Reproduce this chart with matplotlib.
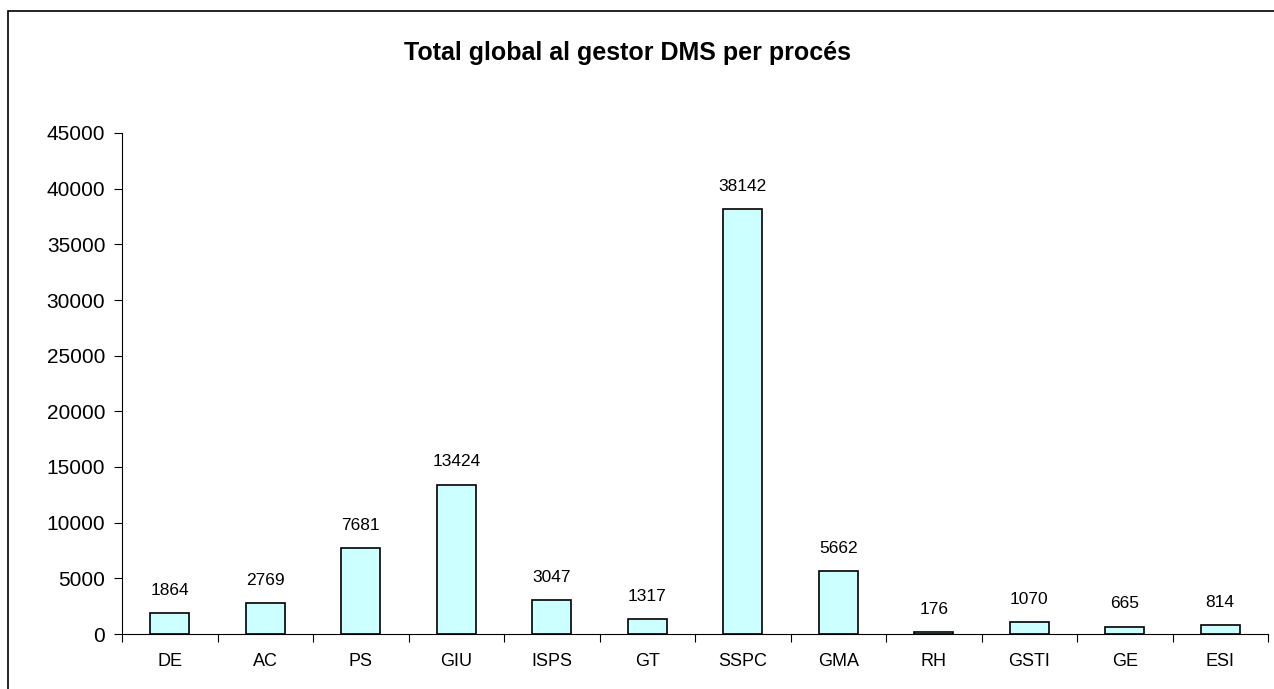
import numpy as np
import matplotlib
matplotlib.use("Agg")
import matplotlib.pyplot as plt
from matplotlib.patches import Rectangle

plt.rcParams['font.family'] = ['Liberation Sans', 'DejaVu Sans']

processes = ['DE', 'AC', 'PS', 'GIU', 'ISPS', 'GT', 'SSPC', 'GMA', 'RH', 'GSTI', 'GE', 'ESI']
totals = [1864, 2769, 7681, 13424, 3047, 1317, 38142, 5662, 176, 1070, 665, 814]
yticks = [0, 5000, 10000, 15000, 20000, 25000, 30000, 35000, 40000, 45000]

fig = plt.figure(figsize=(12.74, 6.89), dpi=100)

# outer chart frame (runs off the right and bottom edges)
fig.patches.append(Rectangle((8 / 1274, -0.1), 1.2, 1.1 - 11 / 689, transform=fig.transFigure,
                             fill=False, edgecolor='black', lw=1.2))

ax = fig.add_axes([122 / 1274, 55 / 689, 1146 / 1274, 501 / 689])

x = np.arange(len(processes))
ax.bar(x, totals, width=0.41, color='#CCFFFF', edgecolor='black', lw=1.2)

for xi, v in zip(x, totals):
    ax.annotate(str(v), (xi, v), xytext=(0, 11), textcoords='offset points',
                ha='center', va='bottom', fontsize=12.5)

ax.set_xlim(-0.5, len(processes) - 0.5)
ax.set_ylim(0, 45000)
ax.set_yticks(yticks)
ax.set_yticklabels([str(t) for t in yticks], fontsize=15)

# labels at bar centres, tick marks between categories
ax.set_xticks(np.arange(-0.5, len(processes)))
ax.set_xticklabels([])
ax.set_xticks(x, minor=True)
ax.set_xticklabels(processes, minor=True, fontsize=13)
ax.tick_params(axis='x', which='minor', length=0, pad=14)
ax.tick_params(axis='x', which='major', length=6, direction='out')
ax.tick_params(axis='y', length=6, direction='out', pad=6)

ax.spines['top'].set_visible(False)
ax.spines['right'].set_visible(False)

fig.text(627 / 1274, 1 - 53 / 689, 'Total global al gestor DMS per procés',
         ha='center', va='center', fontsize=18, fontweight='bold')

fig.savefig('out.png', dpi=100)
